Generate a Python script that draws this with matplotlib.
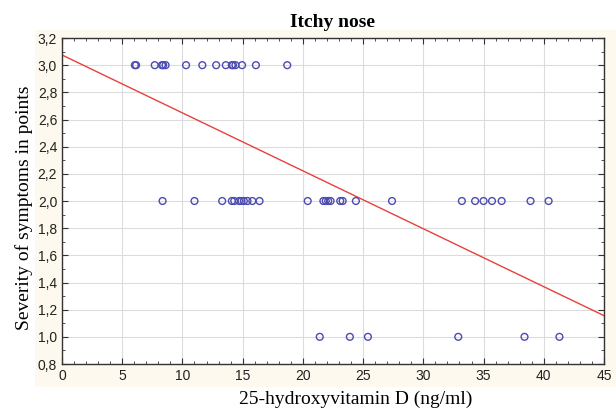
import matplotlib
matplotlib.use('Agg')
import matplotlib.pyplot as plt
from matplotlib.patches import Rectangle
from matplotlib.ticker import MultipleLocator, FuncFormatter
import numpy as np

# vitamin D levels (ng/ml) per severity score
vit_d_3 = [6.05, 6.15, 7.7, 8.3, 8.4, 8.6, 10.3, 11.65, 12.8, 13.6, 14.1, 14.2, 14.4, 14.95, 16.1, 18.7]
vit_d_2 = [8.35, 11.0, 13.3, 14.1, 14.3, 14.7, 14.9, 15.1, 15.4, 15.8, 16.4, 20.4, 21.7, 21.9, 22.1,
           22.3, 23.1, 23.3, 24.4, 27.4, 33.2, 34.3, 35.0, 35.7, 36.5, 38.9, 40.4]
vit_d_1 = [21.4, 23.9, 25.4, 32.9, 38.4, 41.3]

# regression line
intercept = 3.075
slope = (1.156 - 3.075) / 45

x_vals = vit_d_3 + vit_d_2 + vit_d_1
y_vals = [3.0] * len(vit_d_3) + [2.0] * len(vit_d_2) + [1.0] * len(vit_d_1)

fig = plt.figure(figsize=(6.16, 4.11), dpi=100)
bg = Rectangle((35 / 616, 24 / 411), 1 - 35 / 616, 357 / 411,
               transform=fig.transFigure, facecolor='#fdf9ee', edgecolor='none', zorder=-5)
fig.add_artist(bg)
ax = fig.add_axes([62 / 616, 47 / 411, 542 / 616, 326 / 411])
ax.set_facecolor('white')

ax.scatter(x_vals, y_vals, s=24, facecolors='none', edgecolors='#4b4bb0', linewidths=1.0, zorder=3)
xl = np.array([0, 45])
ax.plot(xl, intercept + slope * xl, color='#e8403c', linewidth=1.0, zorder=2)

ax.set_xlim(0, 45)
ax.set_ylim(0.8, 3.2)
ax.xaxis.set_major_locator(MultipleLocator(5))
ax.xaxis.set_minor_locator(MultipleLocator(1))
ax.yaxis.set_major_locator(MultipleLocator(0.2))
ax.yaxis.set_minor_locator(MultipleLocator(0.1))
ax.yaxis.set_major_formatter(FuncFormatter(lambda v, p: ('%.1f' % v).replace('.', ',')))
ax.grid(True, which='major', color='#dcdcdc', linewidth=0.8, zorder=0)
ax.tick_params(which='both', direction='in', top=True, right=True, colors='#333333',
               labelcolor='#222222', labelsize=10)
ax.tick_params(which='major', length=4)
ax.tick_params(which='minor', length=2)
for lbl in ax.get_xticklabels() + ax.get_yticklabels():
    lbl.set_family('Liberation Sans')
for sp in ax.spines.values():
    sp.set_color('#333333')
    sp.set_linewidth(1.0)

ax.set_title('Itchy nose', fontfamily='Liberation Serif', fontweight='bold', fontsize=14, pad=8)
ax.set_xlabel('25-hydroxyvitamin D (ng/ml)', fontfamily='Liberation Serif', fontsize=14)
ax.set_ylabel('Severity of symptoms in points', fontfamily='Liberation Serif', fontsize=14)
ax.xaxis.set_label_coords(0.5424, -0.083)
ax.yaxis.set_label_coords(-0.0535, 0.4785)

fig.savefig('out.png', dpi=100, facecolor='white')
